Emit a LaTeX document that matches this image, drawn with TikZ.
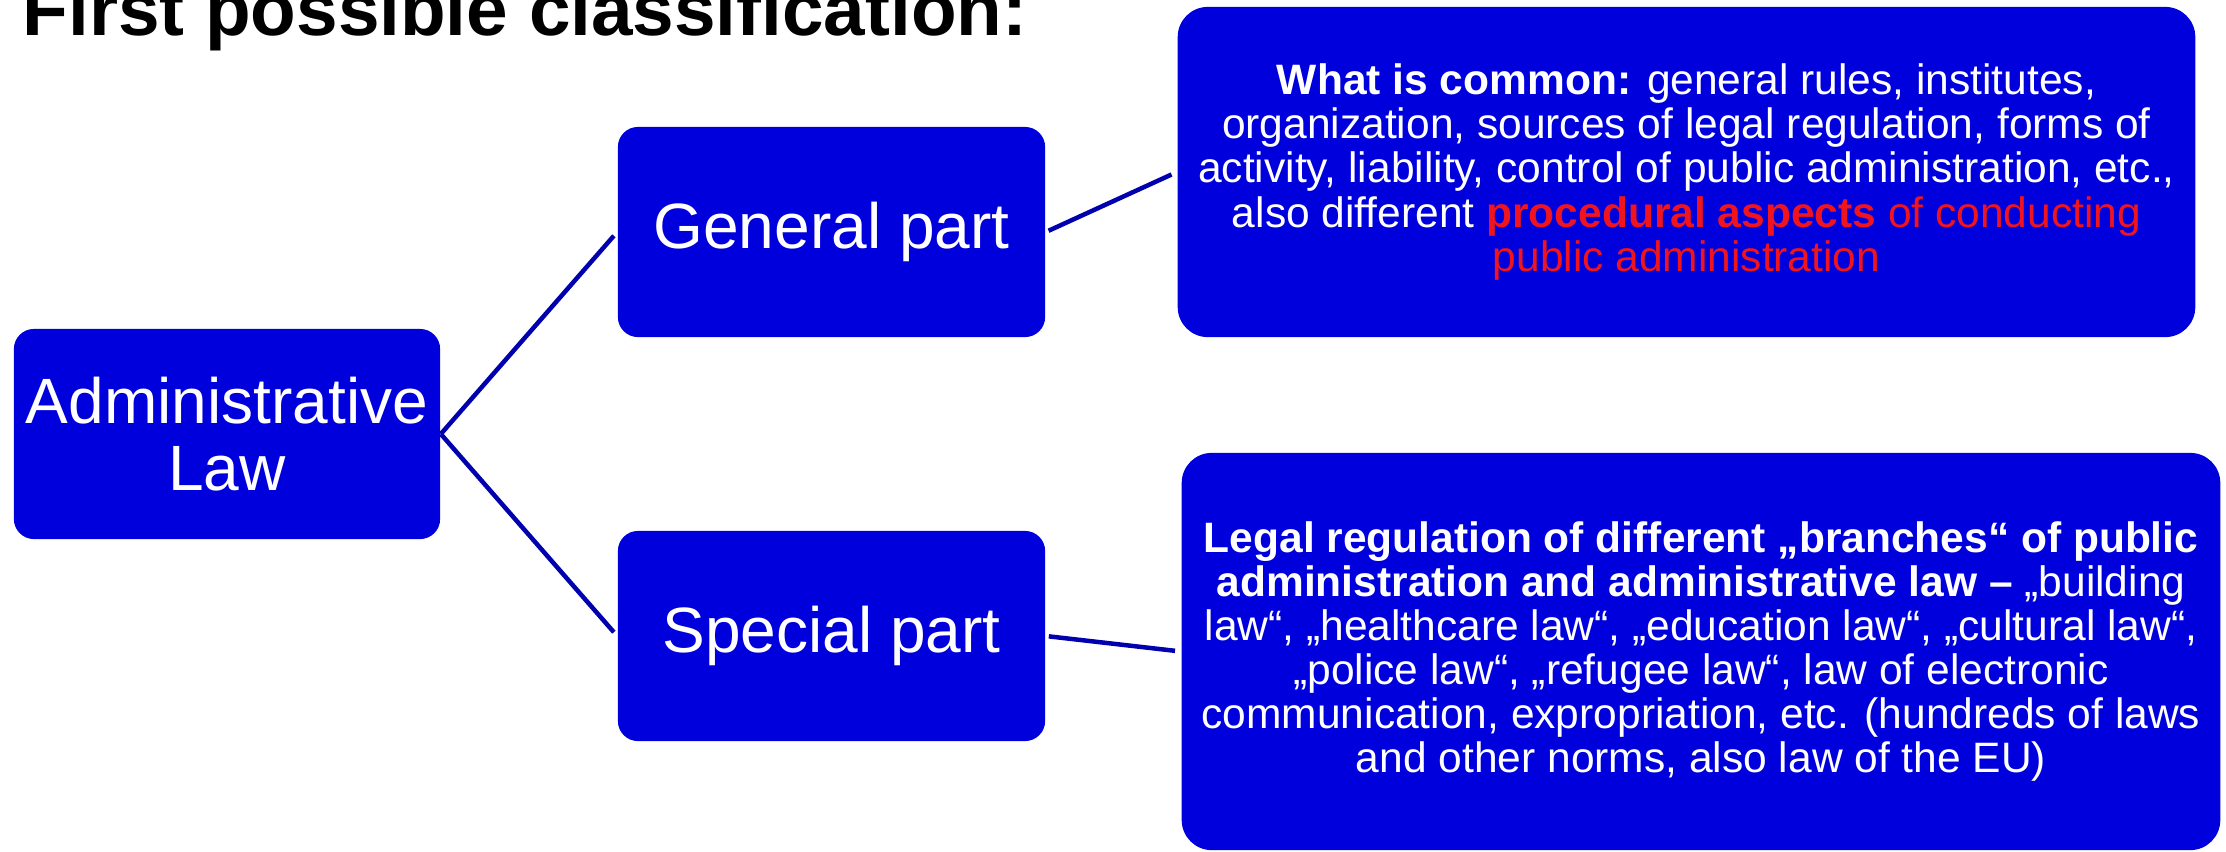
\documentclass[tikz,border=0pt]{standalone}
\usepackage{fontspec}
\setmainfont{Liberation Sans}
\definecolor{boxblue}{RGB}{0,0,220}
\definecolor{lineblue}{RGB}{0,0,175}
\definecolor{hired}{RGB}{240,20,30}
\begin{document}
\begin{tikzpicture}[x=0.01cm,y=-0.01cm,
  box/.style={fill=boxblue, draw=none, text=white, align=center, inner sep=0pt},
  conn/.style={draw=lineblue, line width=0.045cm},
  small/.style={font=\fontsize{12.09pt}{12.52pt}\selectfont},
  big/.style={font=\fontsize{18.21pt}{19.06pt}\selectfont}]
\useasboundingbox (0,0) rectangle (2226,851);
\node[anchor=base west, inner sep=0pt, font=\fontsize{21.24pt}{24pt}\selectfont\bfseries] (title) at (22,35) {First possible classification:};
\node[box, big, rounded corners=0.2cm, minimum width=4.26cm, minimum height=2.10cm] (admin) at (227,434) {Administrative\\Law};
\node[box, big, rounded corners=0.2cm, minimum width=4.27cm, minimum height=2.10cm] (general) at (831.5,232) {General part};
\node[box, big, rounded corners=0.2cm, minimum width=4.27cm, minimum height=2.10cm] (special) at (831.5,636) {Special part};
\node[box, small, rounded corners=0.3cm, minimum width=10.17cm, minimum height=3.30cm] (common) at (1686.5,172) {\textbf{What is common:} general rules, institutes,\\organization, sources of legal regulation, forms of\\activity, liability, control of public administration, etc.,\\also different \textcolor{hired}{\textbf{procedural aspects} of conducting}\\\textcolor{hired}{public administration}};
\node[box, small, rounded corners=0.3cm, minimum width=10.38cm, minimum height=3.97cm] (branches) at (1701,651.5) {\textbf{Legal regulation of different „branches“ of public}\\\textbf{administration and administrative law –} „building\\law“, „healthcare law“, „education law“, „cultural law“,\\„police law“, „refugee law“, law of electronic\\communication, expropriation, etc. (hundreds of laws\\and other norms, also law of the EU)};
\draw[conn, shorten >=0.05cm] (admin.east) -- (general.west);
\draw[conn, shorten >=0.05cm] (admin.east) -- (special.west);
\draw[conn, shorten <=0.03cm, shorten >=0.06cm] (general.east) -- (common.west);
\draw[conn, shorten <=0.03cm, shorten >=0.06cm] (special.east) -- (branches.west);
\end{tikzpicture}
\end{document}
